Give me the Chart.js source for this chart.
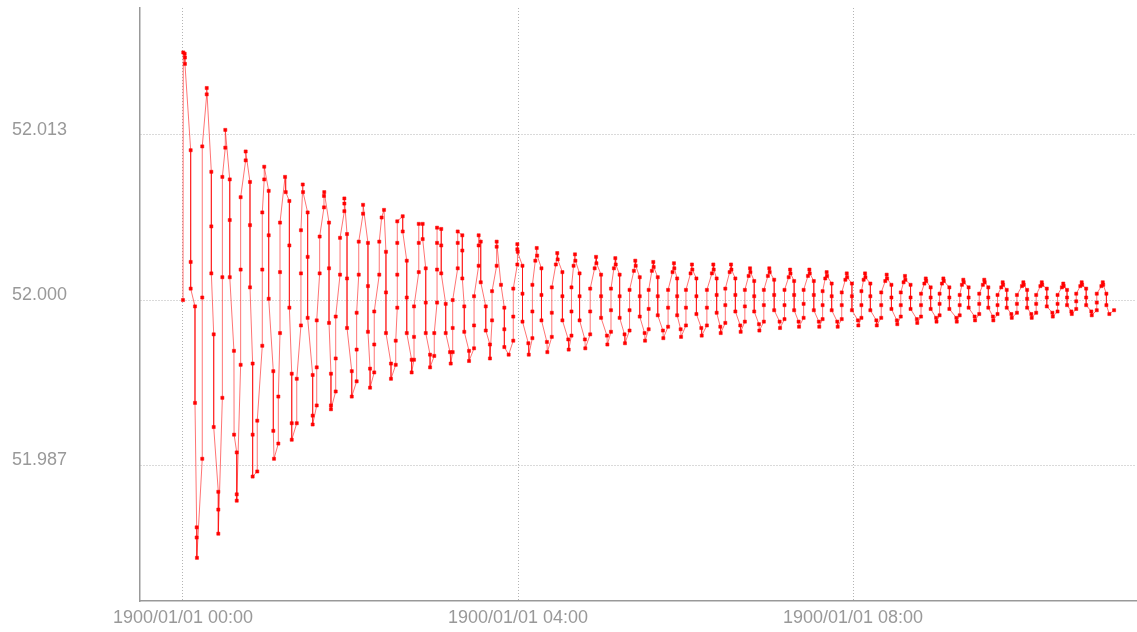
<!DOCTYPE html>
<html>
<head>
	<meta charset="utf-8">
	<title></title>
	<script src="https://cdn.jsdelivr.net/npm/chart.js@4.4.1/dist/chart.umd.min.js"></script>
	<style>
		body { margin: 0; background: #fff; }
	</style>
</head>
<body>
	<canvas id="grafico" width="1137" height="632"></canvas>

	<script>
		// minutes after 1900/01/01 00:00
		var minutos = [
			0.0,
			0.2, 1.2, 1.4, 1.4,
			5.5, 5.5, 5.5, 8.6, 8.6, 9.8, 9.8, 10.0,
			13.8, 13.8, 13.8, 17.0, 17.0,
			20.3, 20.3, 20.3, 22.0, 22.0, 25.3, 25.3, 25.3,
			28.2, 28.2, 28.2, 30.3, 30.3,
			33.5, 33.5, 33.5, 36.5, 36.6, 38.5, 38.5, 38.5,
			41.3, 41.3, 41.3, 44.9, 44.9,
			48.0, 48.0, 48.0, 49.9, 49.9, 49.9, 53.2, 53.2,
			56.8, 56.8, 56.8, 58.2, 58.2,
			61.4, 61.4, 61.4, 64.7, 64.7, 65.2, 68.3, 68.3,
			69.5, 69.5, 69.5, 73.1, 73.6,
			76.2, 76.2, 76.2, 77.9, 77.9, 77.9, 81.5, 81.5,
			84.5, 84.5, 84.5, 85.8, 86.0,
			89.3, 89.3, 89.3, 92.9, 92.9, 92.9,
			95.8, 95.8, 95.8, 97.9, 97.9, 101.0, 101.0, 101.2,
			104.6, 104.6, 104.6, 106.0, 106.0, 106.0,
			109.4, 109.4, 109.4, 112.5, 112.5, 115.6, 115.6, 115.6,
			117.5, 117.5, 117.5, 120.9, 120.9,
			124.4, 124.4, 124.4, 125.9, 125.9, 129.0, 129.0,
			132.5, 132.5, 132.5, 134.0, 134.0,
			137.0, 137.0, 137.0, 140.6, 140.6, 142.3, 144.0,
			145.4, 145.4, 145.4, 149.0, 149.0,
			152.4, 152.4, 153.5, 153.5, 153.5, 153.5,
			157.4, 157.4, 160.3, 160.3, 160.3, 163.8, 163.8,
			165.5, 165.5, 165.5, 168.9, 168.9, 168.9,
			171.7, 171.7, 173.9, 173.9, 173.9, 177.0, 177.0,
			180.0, 180.0, 182.0, 182.0, 182.0, 182.0,
			185.0, 185.0, 185.0, 188.2, 188.2, 191.3, 191.8,
			193.2, 193.2, 193.2, 196.8, 196.8, 196.8,
			200.1, 200.1, 200.1, 201.5, 201.5, 204.9, 204.9,
			208.5, 208.5, 208.5, 211.8, 211.8, 211.8,
			213.3, 213.3, 216.9, 216.9, 219.9, 219.9,
			221.4, 221.4, 224.7, 224.7, 224.7,
			227.8, 230.2, 230.2, 230.2, 233.3,
			236.6, 236.6, 236.6, 239.5, 239.5, 239.5,
			239.8, 243.2, 243.2, 243.2, 247.4, 247.7, 250.3, 250.3, 250.3, 252.4,
			253.4, 253.7, 256.8, 256.8, 256.8, 260.7, 261.0, 264.2, 264.2, 264.2, 267.1,
			268.1, 268.4, 271.8, 271.8, 271.8, 276.0, 276.3, 278.3, 278.3, 278.3, 279.8,
			280.8, 281.1, 284.1, 284.1, 284.1, 287.9, 288.2, 291.7, 291.7, 291.7, 294.9,
			295.9, 296.2, 299.5, 299.5, 299.5, 303.7, 304.0, 306.6, 306.6, 306.6, 308.7,
			309.7, 310.0, 312.8, 312.8, 312.8, 316.3, 316.6, 319.9, 319.9, 319.9, 323.0,
			324.0, 324.3, 327.2, 327.2, 327.2, 330.7, 331.0, 333.6, 333.6, 333.6, 335.9,
			336.9, 337.2, 340.1, 340.1, 340.1, 343.8, 344.1, 347.5, 347.5, 347.5, 350.7,
			351.7, 352.0, 354.0, 354.0, 354.0, 356.5, 356.8, 360.3, 360.3, 360.3, 363.6,
			364.6, 364.9, 367.8, 367.8, 367.8, 371.3, 371.6, 375.3, 375.3, 375.3, 378.9,
			379.9, 380.2, 382.3, 382.3, 382.3, 384.9, 385.2, 388.5, 388.5, 388.5, 391.6,
			392.6, 392.9, 395.7, 395.7, 395.7, 399.2, 399.5, 402.5, 402.5, 402.5, 405.2,
			406.2, 406.5, 409.2, 409.2, 409.2, 412.6, 412.9, 416.1, 416.1, 416.1, 419.0,
			420.0, 420.3, 423.5, 423.5, 423.5, 427.4, 427.7, 430.9, 430.9, 430.9, 433.9,
			434.9, 435.2, 437.8, 437.8, 437.8, 441.0, 441.3, 444.6, 444.6, 444.6, 447.7,
			448.7, 449.0, 451.9, 451.9, 451.9, 455.5, 455.8, 458.2, 458.2, 458.2, 460.1,
			461.1, 461.4, 464.7, 464.7, 464.7, 468.7, 469.0, 471.9, 471.9, 471.9, 474.5,
			475.5, 475.8, 479.2, 479.2, 479.2, 483.5, 483.8, 486.0, 486.0, 486.0, 487.6,
			488.6, 488.9, 492.4, 492.4, 492.4, 496.7, 497.0, 500.2, 500.2, 500.2, 503.1,
			504.1, 504.4, 507.5, 507.5, 507.5, 511.4, 511.7, 514.2, 514.2, 514.2, 516.2,
			517.2, 517.5, 521.2, 521.2, 521.2, 525.7, 526.0, 528.7, 528.7, 528.7, 531.1,
			532.1, 532.4, 535.6, 535.6, 535.6, 539.5, 539.8, 542.0, 542.0, 542.0, 543.7,
			544.7, 545.0, 549.0, 549.0, 549.0, 554.0, 554.3, 556.4, 556.4, 556.4, 558.0,
			559.0, 559.3, 562.8, 562.8, 562.8, 567.1, 567.4, 570.4, 570.4, 570.4, 573.0,
			574.0, 574.3, 576.9, 576.9, 576.9, 580.2, 580.5, 583.5, 583.5, 583.5, 586.2,
			587.2, 587.5, 590.1, 590.1, 590.1, 593.4, 593.7, 597.4, 597.4, 597.4, 601.0,
			602.0, 602.3, 604.7, 604.7, 604.7, 607.7, 608.0, 611.2, 611.2, 611.2, 614.2,
			615.2, 615.5, 618.8, 618.8, 618.8, 622.8, 623.1, 626.5, 626.5, 626.5, 629.6,
			630.6, 630.9, 633.3, 633.3, 633.3, 636.4, 636.7, 639.9, 639.9, 639.9, 642.8,
			643.8, 644.1, 647.0, 647.0, 647.0, 650.7, 651.0, 654.6, 654.6, 654.6, 657.9,
			658.9, 659.2, 661.5, 661.5, 663.6, 667.0
		];

		var valores = [
			52.0000,
			52.0195, 52.0194, 52.0191, 52.0186,
			52.0118, 52.0030, 52.0009, 51.9995, 51.9919, 51.9821, 51.9813, 51.9797,
			51.9875, 52.0002, 52.0121, 52.0162, 52.0167,
			52.0101, 52.0058, 52.0021, 51.9973, 51.9900, 51.9849, 51.9835, 51.9816,
			51.9923, 52.0018, 52.0097, 52.0120, 52.0134,
			52.0095, 52.0063, 52.0018, 51.9960, 51.9894, 51.9880, 51.9847, 51.9842,
			51.9949, 52.0024, 52.0081, 52.0110, 52.0117,
			52.0093, 52.0059, 52.0010, 51.9950, 51.9894, 51.9861, 51.9865, 51.9905,
			51.9964, 52.0024, 52.0069, 52.0095, 52.0105,
			52.0086, 52.0051, 52.0001, 51.9944, 51.9897, 51.9875, 51.9887, 51.9924,
			51.9974, 52.0022, 52.0061, 52.0097, 52.0085,
			52.0078, 52.0043, 51.9994, 51.9942, 51.9903, 51.9890, 51.9903, 51.9938,
			51.9980, 52.0021, 52.0055, 52.0091, 52.0085,
			52.0069, 52.0034, 51.9986, 51.9941, 51.9909, 51.9902,
			51.9917, 51.9947, 51.9984, 52.0021, 52.0050, 52.0073, 52.0082, 52.0085,
			52.0061, 52.0025, 51.9982, 51.9942, 51.9917, 51.9914,
			51.9928, 51.9954, 51.9987, 52.0020, 52.0049, 52.0070, 52.0076, 52.0080,
			52.0052, 52.0017, 51.9978, 51.9944, 51.9924,
			51.9936, 51.9961, 51.9990, 52.0020, 52.0046, 52.0068, 52.0075,
			52.0045, 52.0011, 51.9975, 51.9946, 51.9931,
			51.9943, 51.9965, 51.9991, 52.0020, 52.0046, 52.0065, 52.0071,
			52.0038, 52.0006, 51.9974, 51.9950, 51.9938,
			51.9949, 51.9968, 51.9994, 52.0020, 52.0045, 52.0062,
			52.0066, 52.0054, 52.0031, 52.0002, 51.9974, 51.9953, 51.9943,
			51.9953, 51.9971, 51.9995, 52.0022, 52.0045, 52.0060,
			52.0060, 52.0048, 52.0025, 51.9998, 51.9974, 51.9957, 51.9947,
			51.9956, 51.9974, 51.9998, 52.0024, 52.0045, 52.0057,
			52.0056, 52.0043, 52.0021, 51.9997, 51.9974, 51.9959, 51.9950,
			51.9959, 51.9978, 52.0000, 52.0025, 52.0045, 52.0054,
			52.0051, 52.0039, 52.0017, 51.9995, 51.9975, 51.9960, 51.9952,
			51.9962, 51.9980, 52.0003, 52.0027, 52.0043, 52.0051,
			52.0046, 52.0014, 51.9995, 51.9976, 51.9965, 51.9954,
			51.9984, 52.0007, 52.0027, 52.0042, 52.0046,
			52.0012, 51.9994, 51.9977, 51.9963, 51.9957,
			51.9968, 51.9987, 52.0009, 52.0028, 52.0040, 52.0044,
			52.0038, 52.0027, 52.0005, 51.9983, 51.9966, 51.9957, 51.9970, 51.9991, 52.0012, 52.0031,
			52.0041, 52.0035, 52.0025, 52.0004, 51.9984, 51.9967, 51.9959, 51.9971, 51.9990, 52.0010, 52.0028,
			52.0037, 52.0032, 52.0022, 52.0003, 51.9984, 51.9969, 51.9961, 51.9972, 51.9991, 52.0010, 52.0027,
			52.0036, 52.0031, 52.0021, 52.0003, 51.9984, 51.9969, 51.9962, 51.9973, 51.9991, 52.0009, 52.0025,
			52.0034, 52.0029, 52.0020, 52.0003, 51.9986, 51.9972, 51.9965, 51.9975, 51.9992, 52.0009, 52.0025,
			52.0033, 52.0028, 52.0020, 52.0003, 51.9986, 51.9973, 51.9966, 51.9976, 51.9992, 52.0008, 52.0023,
			52.0031, 52.0027, 52.0018, 52.0003, 51.9987, 51.9974, 51.9968, 51.9977, 51.9993, 52.0008, 52.0023,
			52.0030, 52.0026, 52.0018, 52.0003, 51.9988, 51.9976, 51.9970, 51.9979, 51.9994, 52.0008, 52.0022,
			52.0029, 52.0025, 52.0017, 52.0003, 51.9988, 51.9977, 51.9971, 51.9980, 51.9994, 52.0008, 52.0021,
			52.0028, 52.0024, 52.0017, 52.0003, 51.9989, 51.9978, 51.9972, 51.9980, 51.9994, 52.0008, 52.0021,
			52.0028, 52.0024, 52.0017, 52.0004, 51.9990, 51.9979, 51.9974, 51.9982, 51.9996, 52.0009, 52.0022,
			52.0028, 52.0024, 52.0017, 52.0004, 51.9991, 51.9980, 51.9975, 51.9983, 51.9995, 52.0008, 52.0019,
			52.0025, 52.0022, 52.0015, 52.0003, 51.9991, 51.9981, 51.9976, 51.9983, 51.9996, 52.0008, 52.0019,
			52.0025, 52.0022, 52.0016, 52.0004, 51.9992, 51.9983, 51.9978, 51.9985, 51.9996, 52.0008, 52.0018,
			52.0024, 52.0021, 52.0015, 52.0004, 51.9992, 51.9983, 51.9979, 51.9986, 51.9997, 52.0008, 52.0019,
			52.0024, 52.0021, 52.0015, 52.0004, 51.9992, 51.9983, 51.9979, 51.9985, 51.9996, 52.0007, 52.0017,
			52.0022, 52.0019, 52.0013, 52.0003, 51.9992, 51.9983, 51.9979, 51.9985, 51.9996, 52.0006, 52.0016,
			52.0021, 52.0018, 52.0013, 52.0003, 51.9992, 51.9984, 51.9980, 51.9986, 51.9996, 52.0007, 52.0016,
			52.0021, 52.0018, 52.0013, 52.0003, 51.9992, 51.9984, 51.9980, 51.9986, 51.9996, 52.0006, 52.0015,
			52.0020, 52.0017, 52.0012, 52.0002, 51.9993, 51.9984, 51.9981, 51.9987, 51.9996, 52.0006, 52.0014,
			52.0019, 52.0016, 52.0012, 52.0002, 51.9993, 51.9985, 51.9982, 51.9987, 51.9996, 52.0005, 52.0013,
			52.0017, 52.0015, 52.0010, 52.0002, 51.9993, 51.9986, 51.9983, 51.9988, 51.9997, 52.0005, 52.0013,
			52.0017, 52.0015, 52.0010, 52.0002, 51.9993, 51.9986, 51.9983, 51.9988, 51.9996, 52.0004, 52.0012,
			52.0016, 52.0014, 52.0010, 52.0002, 51.9994, 51.9987, 51.9984, 51.9989, 51.9997, 52.0005, 52.0012,
			52.0016, 52.0014, 52.0010, 52.0002, 51.9994, 51.9987, 51.9984, 51.9989, 51.9996, 52.0004, 52.0010,
			52.0014, 52.0012, 52.0008, 52.0001, 51.9994, 51.9989, 51.9986, 51.9990, 51.9997, 52.0004, 52.0011,
			52.0014, 52.0012, 52.0008, 52.0001, 51.9994, 51.9989, 51.9986, 51.9990, 51.9997, 52.0004, 52.0011,
			52.0014, 52.0012, 52.0009, 52.0002, 51.9995, 51.9990, 51.9987, 51.9991, 51.9997, 52.0004, 52.0010,
			52.0013, 52.0011, 52.0008, 52.0002, 51.9996, 51.9991, 51.9989, 51.9993, 51.9999, 52.0005, 52.0011,
			52.0014, 52.0012, 52.0009, 52.0002, 51.9996, 51.9991, 51.9988, 51.9992, 51.9998, 52.0005, 52.0011,
			52.0014, 52.0012, 52.0005, 51.9996, 51.9989, 51.9992
		];

		var ticksX = [0, 240, 480];
		var ticksY = [51.987, 52.000, 52.013];
		var rangoX = [-30.8, 682.7];
		var rangoY = [51.9763, 52.0230];

		if (minutos.length !== valores.length) {
			console.log('longitudes distintas', minutos.length, valores.length);
		}

		var puntos = minutos.map(function (m, i) {
			return { x: m, y: valores[i] };
		});

		function etiquetaHora(m) {
			var h = Math.floor(m / 60);
			var mm = Math.round(m - h * 60);
			return '1900/01/01 ' + String(h).padStart(2, '0') + ':' + String(mm).padStart(2, '0');
		}

		Chart.defaults.font.family = "'Liberation Sans', Arial, sans-serif";
		Chart.defaults.font.size = 18;
		Chart.defaults.color = '#999';

		var ctx = document.getElementById('grafico').getContext('2d');
		window.linea = new Chart(ctx, {
			type: 'line',
			data: {
				datasets: [{
					data: puntos,
					borderColor: 'rgba(255,0,0,0.55)',
					borderWidth: 1,
					pointStyle: 'rect',
					pointRadius: 2.2,
					pointBorderWidth: 0.5,
					pointBackgroundColor: '#ff0000',
					pointBorderColor: '#ff0000',
					tension: 0,
					fill: false
				}]
			},
			options: {
				responsive: false,
				animation: false,
				layout: { autoPadding: false, padding: { left: 12, right: 1, top: 8, bottom: 0 } },
				plugins: {
					legend: { display: false },
					tooltip: { enabled: false }
				},
				scales: {
					x: {
						type: 'linear',
						min: rangoX[0],
						max: rangoX[1],
						afterBuildTicks: function (s) { s.ticks = ticksX.map(function (v) { return { value: v }; }); },
						afterFit: function (s) {
							s.height = 31;
							s.paddingLeft = 0;
							s.paddingRight = 0;
						},
						grid: { color: '#b4b4b4', lineWidth: 1, drawTicks: false },
						border: { display: true, color: '#999', width: 1.5, dash: [1, 2] },
						ticks: {
							padding: 6,
							maxRotation: 0,
							autoSkip: false,
							callback: function (v) { return etiquetaHora(v); }
						}
					},
					y: {
						min: rangoY[0],
						max: rangoY[1],
						afterBuildTicks: function (s) { s.ticks = ticksY.map(function (v) { return { value: v }; }); },
						afterFit: function (s) {
							s.width = 128;
							s.paddingTop = 0;
							s.paddingBottom = 0;
						},
						grid: { color: '#b4b4b4', lineWidth: 1, drawTicks: false },
						border: { display: true, color: '#999', width: 1.5, dash: [1, 2] },
						ticks: {
							crossAlign: 'far',
							labelOffset: -5,
							callback: function (v) { return v.toFixed(3); }
						}
					}
				}
			}
		});
	</script>
</body>
</html>
